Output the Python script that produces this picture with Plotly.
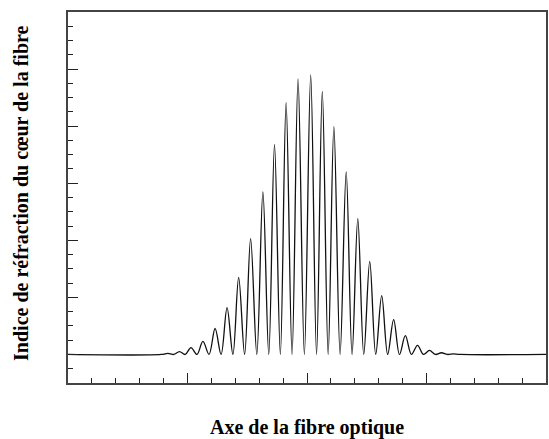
import plotly.graph_objects as go

# Extrema of the interference pattern along the fibre axis (alternating troughs and peaks)
axis_pos = [0.0, 0.78,
            0.836, 0.885, 0.933, 0.981, 1.029, 1.079, 1.129, 1.180, 1.231, 1.281,
            1.331, 1.380, 1.428, 1.478, 1.528, 1.580, 1.631, 1.680, 1.728, 1.777,
            1.825, 1.875, 1.925, 1.978, 2.031, 2.080, 2.128, 2.177, 2.225, 2.277,
            2.328, 2.377, 2.425, 2.475, 2.525, 2.575, 2.625, 2.675, 2.725, 2.774,
            2.823, 2.874, 2.925, 2.975, 3.025, 3.075, 3.125, 3.175, 3.225, 3.28,
            4.0]
index_value = [0.0, 0.0,
               0.02, 0.0, 0.05, 0.0, 0.12, 0.0, 0.23, 0.0, 0.455, 0.0,
               0.82, 0.0, 1.35, 0.0, 2.03, 0.0, 2.85, 0.0, 3.68, 0.0,
               4.41, 0.0, 4.83, 0.0, 4.90, 0.0, 4.61, 0.0, 3.99, 0.0,
               3.20, 0.0, 2.38, 0.0, 1.63, 0.0, 1.03, 0.0, 0.61, 0.0,
               0.33, 0.0, 0.16, 0.0, 0.07, 0.0, 0.03, 0.0, 0.01, 0.0,
               0.0]

x_title = "Axe de la fibre optique"
y_title = "Indice de réfraction du cœur de la fibre"

fig = go.Figure(
    go.Scatter(
        x=axis_pos, y=index_value, mode="lines",
        line=dict(color="#111111", width=1.3, shape="spline", smoothing=1.0),
        hoverinfo="skip",
    )
)

axis_common = dict(
    showgrid=False, zeroline=False, showticklabels=False,
    showline=True, linecolor="#444444", linewidth=1.6, mirror=True,
    ticks="inside", ticklen=10, tickwidth=1.2, tickcolor="#222222",
)

fig.update_xaxes(
    range=[0, 4], tick0=0, dtick=1,
    minor=dict(ticks="inside", ticklen=5, tickwidth=1.2, tickcolor="#222222", dtick=0.2, tick0=0),
    **axis_common,
)
fig.update_yaxes(
    range=[-0.5, 6], tick0=0, dtick=1,
    minor=dict(ticks="inside", ticklen=5, tickwidth=1.2, tickcolor="#222222", dtick=0.25, tick0=0),
    **axis_common,
)

title_font = dict(family="Liberation Serif", size=20, color="#000000")
fig.add_annotation(text="<b>" + x_title + "</b>", xref="paper", yref="paper",
                   x=0.5, y=-0.119, xanchor="center", yanchor="middle",
                   showarrow=False, font=title_font)
fig.add_annotation(text="<b>" + y_title + "</b>", xref="paper", yref="paper",
                   x=-0.098, y=0.51, xanchor="center", yanchor="middle", textangle=-90,
                   showarrow=False, font=title_font)

fig.update_layout(
    width=549, height=439,
    margin=dict(l=68, r=1, t=12, b=56),
    paper_bgcolor="white", plot_bgcolor="white",
    showlegend=False,
)

fig.write_html("out.html")
